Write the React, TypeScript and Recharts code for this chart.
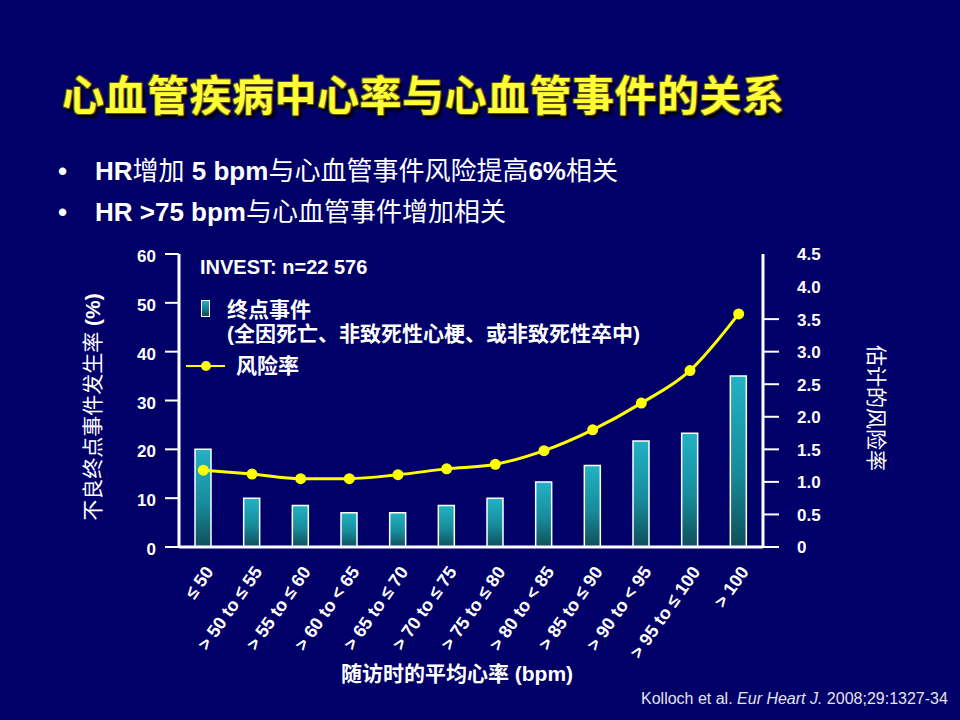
import type { FC } from "react";
import {
  ComposedChart,
  Bar,
  Line,
  XAxis,
  YAxis,
} from "recharts";

const hrRanges = [
  "≤ 50",
  "> 50 to ≤ 55",
  "> 55 to ≤ 60",
  "> 60 to < 65",
  "> 65 to ≤ 70",
  "> 70 to ≤ 75",
  "> 75 to ≤ 80",
  "> 80 to < 85",
  "> 85 to ≤ 90",
  "> 90 to < 95",
  "> 95 to ≤ 100",
  "> 100",
];

// 不良终点事件发生率 (%)
const endpointRates = [20, 10, 8.5, 7, 7, 8.5, 10, 13.3, 16.7, 21.7, 23.3, 35];

// 估计的风险率
const hazardRatios = [1.18, 1.12, 1.05, 1.05, 1.11, 1.2, 1.27, 1.48, 1.8, 2.21, 2.71, 3.58];

const leftTicks = [0, 10, 20, 30, 40, 50, 60];
const rightTicks = [0, 0.5, 1, 1.5, 2, 2.5, 3, 3.5, 4, 4.5];

const rows = hrRanges.map((range, i) => ({
  range,
  rate: endpointRates[i],
  hr: hazardRatios[i],
}));

const BG = "#000068";
const YELLOW = "#ffff00";
const LATIN = "'Liberation Sans', Arial, 'Noto Sans CJK SC', sans-serif";

const XTick: FC<any> = ({ x, y, payload }) => (
  <g transform={`translate(${x + 7},${y + 14})`}>
    <text
      textAnchor="end"
      dominantBaseline="middle"
      transform="rotate(-55)"
      fill="#fff"
      fontSize={18}
      fontWeight={700}
      fontFamily={LATIN}
    >
      {payload.value}
    </text>
  </g>
);

const RightTick: FC<any> = ({ x, y, payload }) => {
  const v = payload.value as number;
  return (
    <g>
      {/* the top two ticks have no mark in the original */}
      {v <= 3.5 && (
        <line x1={x - 34} x2={x - 18} y1={y} y2={y} stroke="#fff" strokeWidth={2} />
      )}
      <text
        x={x}
        y={y + 2}
        textAnchor="start"
        dominantBaseline="middle"
        fill="#fff"
        fontSize={17}
        fontWeight={700}
        fontFamily={LATIN}
      >
        {v === 0 ? "0" : v.toFixed(1)}
      </text>
    </g>
  );
};

export default function App() {
  return (
    <div
      style={{
        position: "absolute",
        left: 0,
        top: 0,
        width: 960,
        height: 720,
        background: BG,
        overflow: "hidden",
        fontFamily: LATIN,
        color: "#fff",
      }}
    >
      {/* TITLE */}
      <div
        style={{
          position: "absolute",
          left: 62,
          top: 71,
          fontSize: 42,
          lineHeight: "44px",
          fontWeight: 700,
          fontFamily: "'Noto Sans CJK SC', sans-serif",
          color: "#ffff33",
          whiteSpace: "nowrap",
          letterSpacing: 0.5,
          textShadow:
            "-1px -1px 0 #5a4a20, 1px -1px 0 #5a4a20, -1px 1px 0 #5a4a20, 1px 1px 0 #5a4a20, 3px 4px 3px #000",
        }}
      >
        心血管疾病中心率与心血管事件的关系
      </div>

      {/* BULLETS */}
      {[
        <>
          <b>HR</b>增加 <b>5 bpm</b>与心血管事件风险提高<b>6%</b>相关
        </>,
        <>
          <b>HR &gt;75 bpm</b>与心血管事件增加相关
        </>,
      ].map((content, i) => (
        <div
          key={i}
          style={{
            position: "absolute",
            left: 58,
            top: 151 + i * 41,
            height: 40,
            lineHeight: "40px",
            fontSize: 26,
            whiteSpace: "nowrap",
            display: "flex",
          }}
        >
          <span style={{ width: 37, fontWeight: 700 }}>•</span>
          <span>{content}</span>
        </div>
      ))}

      {/* CHART */}
      <div style={{ position: "absolute", left: 0, top: 0 }}>
        <ComposedChart
          width={960}
          height={720}
          data={rows}
          margin={{ top: 254, right: 0, bottom: 0, left: 0 }}
        >
          <defs>
            <linearGradient id="barGrad" x1="0" y1="0" x2="0" y2="1">
              <stop offset="0%" stopColor="#22b2c4" />
              <stop offset="55%" stopColor="#178c9c" />
              <stop offset="100%" stopColor="#0f4f5a" />
            </linearGradient>
          </defs>

          <XAxis
            dataKey="range"
            height={173}
            interval={0}
            tickLine={false}
            axisLine={{ stroke: "#fff", strokeWidth: 3 }}
            tick={(p: any) => <XTick {...p} />}
          />

          <YAxis
            yAxisId="left"
            orientation="left"
            width={179}
            domain={[0, 60]}
            ticks={leftTicks}
            interval={0}
            tickSize={14}
            tickMargin={9}
            axisLine={{ stroke: "#fff", strokeWidth: 3 }}
            tickLine={{ stroke: "#fff", strokeWidth: 2 }}
            tick={{ fill: "#fff", fontSize: 17, fontWeight: 700, fontFamily: LATIN, dy: 2 }}
          />

          <YAxis
            yAxisId="right"
            orientation="right"
            width={197}
            domain={[0, 4.5]}
            ticks={rightTicks}
            interval={0}
            tickSize={16}
            tickMargin={18}
            axisLine={{ stroke: "#fff", strokeWidth: 3 }}
            tickLine={false}
            tick={(p: any) => <RightTick {...p} />}
          />

          <Bar
            yAxisId="left"
            dataKey="rate"
            barSize={16}
            fill="url(#barGrad)"
            stroke="#fff"
            strokeWidth={1.5}
            isAnimationActive={false}
          />

          <Line
            yAxisId="right"
            type="monotone"
            dataKey="hr"
            stroke={YELLOW}
            strokeWidth={3}
            dot={{ r: 5.5, fill: YELLOW, stroke: "none" }}
            activeDot={false}
            isAnimationActive={false}
          />
        </ComposedChart>
      </div>

      {/* INVEST + LEGEND */}
      <div
        style={{
          position: "absolute",
          left: 200,
          top: 255,
          fontSize: 20,
          lineHeight: "24px",
          fontWeight: 700,
          whiteSpace: "nowrap",
        }}
      >
        INVEST: n=22 576
      </div>

      <div
        style={{
          position: "absolute",
          left: 201,
          top: 300,
          width: 7,
          height: 15,
          border: "1px solid #fff",
          background: "linear-gradient(#22b2c4, #0f4f5a)",
        }}
      />
      <div
        style={{
          position: "absolute",
          left: 227,
          top: 298,
          fontSize: 21,
          lineHeight: "24px",
          fontWeight: 700,
          whiteSpace: "nowrap",
        }}
      >
        终点事件
        <br />
        (全因死亡、非致死性心梗、或非致死性卒中)
      </div>

      <div
        style={{
          position: "absolute",
          left: 186,
          top: 365,
          width: 39,
          height: 1.5,
          background: YELLOW,
        }}
      />
      <div
        style={{
          position: "absolute",
          left: 201,
          top: 361,
          width: 10,
          height: 10,
          borderRadius: "50%",
          background: YELLOW,
        }}
      />
      <div
        style={{
          position: "absolute",
          left: 236,
          top: 354,
          fontSize: 21,
          lineHeight: "24px",
          fontWeight: 700,
          whiteSpace: "nowrap",
        }}
      >
        风险率
      </div>

      {/* AXIS TITLES */}
      <div
        style={{
          position: "absolute",
          left: 91,
          top: 407,
          transform: "translate(-50%, -50%) rotate(-90deg)",
          fontSize: 21,
          whiteSpace: "nowrap",
        }}
      >
        不良终点事件发生率 <b>(%)</b>
      </div>
      <div
        style={{
          position: "absolute",
          left: 878,
          top: 408,
          transform: "translate(-50%, -50%) rotate(90deg)",
          fontSize: 21,
          whiteSpace: "nowrap",
        }}
      >
        估计的风险率
      </div>
      <div
        style={{
          position: "absolute",
          left: 457,
          top: 672,
          transform: "translate(-50%, -50%)",
          fontSize: 21,
          fontWeight: 700,
          whiteSpace: "nowrap",
        }}
      >
        随访时的平均心率 (bpm)
      </div>

      {/* CITATION */}
      <div
        style={{
          position: "absolute",
          left: 641,
          top: 689,
          fontSize: 16,
          lineHeight: "20px",
          color: "#e4e4ee",
          whiteSpace: "nowrap",
        }}
      >
        Kolloch et al. <i>Eur Heart J.</i> 2008;29:1327-34
      </div>
    </div>
  );
}
